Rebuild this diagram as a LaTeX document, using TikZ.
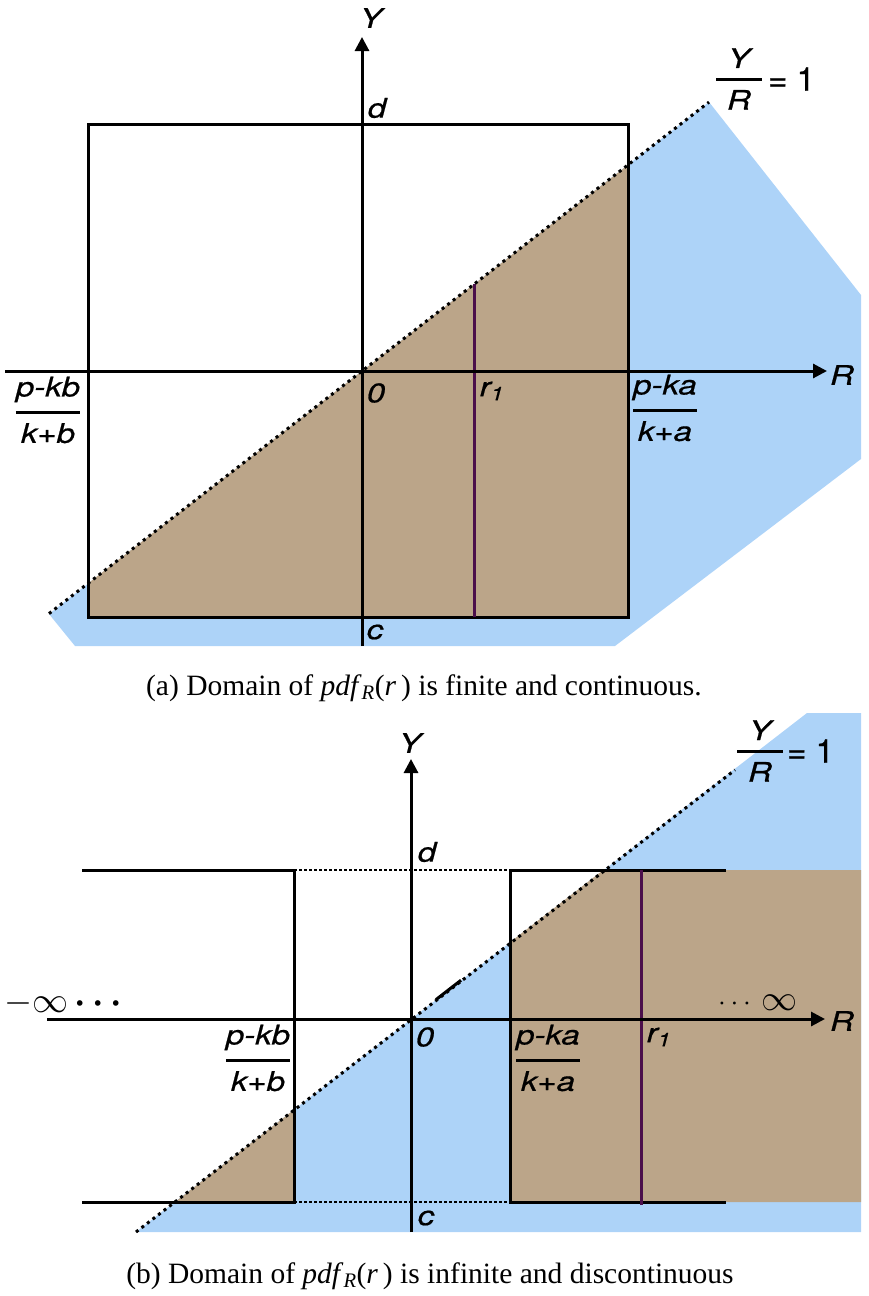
\RequirePackage{fix-cm}
\documentclass[tikz,border=0pt]{standalone}
\usepackage{amsmath}
\usepackage{graphicx}
\usepackage{fontspec}
\setmainfont{Liberation Serif}
\newfontfamily\lblfont[FakeBold=0.6]{TeX Gyre Heros}
\usetikzlibrary{arrows.meta}
\definecolor{dblue}{RGB}{173,211,248}
\definecolor{dbrown}{RGB}{187,165,137}
\definecolor{dpurple}{RGB}{75,15,75}
\newcommand\mylbl[1]{\scalebox{1.22}[1]{\fontsize{27}{29}\selectfont\lblfont\itshape #1}}
\newcommand\myfr[2]{\scalebox{1.22}[1]{\fontsize{27}{29}\selectfont\lblfont\itshape $\genfrac{}{}{3pt}{0}{\text{#1}}{\text{#2}}$}}
\newcommand\myeq{{\fontsize{33}{35}\selectfont\lblfont = 1}}
\begin{document}
\begin{tikzpicture}[x=1pt,y=-1pt,
  axis/.style={line width=3pt,-{Triangle[length=14pt,width=14pt]}},
  edge/.style={line width=3pt},
  dotline/.style={line width=3pt,dash pattern=on 3pt off 4pt},
  hdots/.style={line width=2.8pt,dash pattern=on 2.5pt off 2.5pt},
  rline/.style={dpurple,line width=3pt},
  lbl/.style={inner sep=0pt},
  captext/.style={inner sep=0pt,font=\fontsize{29.5}{31}\selectfont}]
\useasboundingbox (0,0) rectangle (868,1296);
% ================= panel (a) =================
\fill[dblue] (49,614) -- (709,102) -- (861,295) -- (861,459) -- (615,646) -- (75,646) -- cycle;
\fill[dbrown] (88,583.4) -- (628,164.9) -- (628,617) -- (88,617) -- cycle;
\draw[edge] (88,124) rectangle (628,617);
\coordinate (ar1b) at (474,617);
\coordinate (ar1t) at (474,284.2);
\draw[rline] (ar1b) -- (ar1t);
\coordinate (axl) at (5,371);
\coordinate (axr) at (827,371);
\coordinate (ayb) at (362,646);
\coordinate (ayt) at (362,37);
\draw[axis] (axl) -- (axr);
\draw[axis] (ayb) -- (ayt);
\coordinate (adl) at (49,613.6);
\coordinate (adr) at (709,102.1);
\draw[dotline] (adl) -- (adr);
\node[lbl] (aY) at (371,18) {\mylbl{Y}};
\node[lbl] (ad) at (377,108) {\mylbl{d}};
\node[lbl] (ac) at (375,632) {\mylbl{c}};
\node[lbl] (a0) at (376,393) {\mylbl{0}};
\node[lbl] (ar1) at (492,391) {\mylbl{r\textsubscript{1}}};
\node[lbl] (aR) at (842,375) {\mylbl{R}};
\node[lbl] (akb) at (48,410) {\myfr{p-kb}{k+b}};
\node[lbl] (aka) at (665,408) {\myfr{p-ka}{k+a}};
\node[lbl] (aYR) at (739,79) {\myfr{\makebox[37pt]{Y}}{R}};
\node[lbl,anchor=west] (aeq) at (768,79) {\myeq};
\node[captext] (capa) at (424,688) {(a) Domain of \textit{pdf}\textsubscript{\textit{R}}(\textit{r}\,) is finite and continuous.};
% ================= panel (b) =================
\fill[dblue] (136,1232) -- (807,713) -- (861,713) -- (861,1232) -- cycle;
\fill[dbrown] (175,1202) -- (294,1109.7) -- (294,1202) -- cycle;
\fill[dbrown] (510,942.3) -- (603.3,870) -- (861,870) -- (861,1202) -- (510,1202) -- cycle;
\coordinate (t1) at (82,870);
\coordinate (t2) at (294,870);
\coordinate (t3) at (510,870);
\coordinate (t4) at (726,870);
\coordinate (b1) at (82,1202);
\coordinate (b2) at (294,1202);
\coordinate (b3) at (510,1202);
\coordinate (b4) at (726,1202);
\draw[edge] (t1) -- (t2) -- (b2) -- (b1);
\draw[edge] (t4) -- (t3) -- (b3) -- (b4);
\draw[hdots] (t2) -- (t3);
\draw[hdots] (b2) -- (b3);
\coordinate (br1b) at (641,1205);
\coordinate (br1t) at (641,870);
\draw[rline] (br1b) -- (br1t);
\coordinate (bxl) at (47,1019);
\coordinate (bxr) at (825,1019);
\coordinate (byb) at (411,1232);
\coordinate (byt) at (411,759);
\draw[axis] (bxl) -- (bxr);
\draw[axis] (byb) -- (byt);
\coordinate (bdl) at (136,1232);
\coordinate (bdr) at (735,769.9);
\draw[dotline] (bdl) -- (bdr);
\coordinate (bs1) at (436,999.6);
\coordinate (bs2) at (461,980.2);
\draw[line width=3pt] (bs1) -- (bs2);
\node[lbl] (bY) at (410,743) {\mylbl{Y}};
\node[lbl] (bd) at (427,852) {\mylbl{d}};
\node[lbl] (bc) at (426,1218) {\mylbl{c}};
\node[lbl] (b0) at (425,1037) {\mylbl{0}};
\node[lbl] (br1) at (659,1037) {\mylbl{r\textsubscript{1}}};
\node[lbl] (bR) at (842,1021) {\mylbl{R}};
\node[lbl] (bkb) at (258,1058) {\myfr{p-kb}{k+b}};
\node[lbl] (bka) at (548,1058) {\myfr{p-ka}{k+a}};
\node[lbl] (bYR) at (760,751) {\myfr{\makebox[37pt]{Y}}{R}};
\node[lbl,anchor=west] (beq) at (787,751) {\myeq};
\node[lbl,anchor=west] (binfl) at (4,1003) {\fontsize{36}{38}\selectfont$-\infty$\,{\boldmath$\cdots$}};
\node[lbl,anchor=west] (binfr) at (718,1003) {\fontsize{36}{38}\selectfont{\fontsize{28}{30}\selectfont$\cdots$}\,$\infty$};
\node[captext] (capb) at (430,1276) {(b) Domain of \textit{pdf}\textsubscript{\textit{R}}(\textit{r}\,) is infinite and discontinuous};
\end{tikzpicture}
\end{document}
